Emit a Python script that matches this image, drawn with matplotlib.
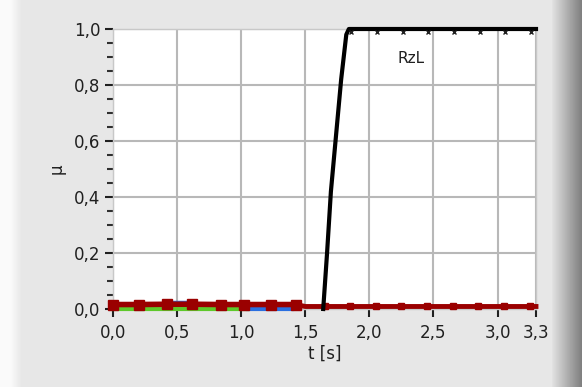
import numpy as np
import matplotlib
matplotlib.use("Agg")
import matplotlib.pyplot as plt
from matplotlib.ticker import MultipleLocator

# ---- data ----
t_black = [1.64, 1.67, 1.70, 1.74, 1.78, 1.82, 1.84, 3.3]
mu_black = [0.0, 0.2, 0.42, 0.62, 0.82, 0.98, 1.0, 1.0]
t_black_x = [1.86, 2.06, 2.26, 2.46, 2.66, 2.86, 3.06, 3.26]
mu_black_x = [0.99, 0.99, 0.99, 0.99, 0.99, 0.99, 0.99, 0.99]

t_red1 = [0.0, 0.2, 0.42, 0.62, 0.84, 1.02, 1.23, 1.43]
mu_red1 = [0.016, 0.016, 0.017, 0.017, 0.016, 0.016, 0.016, 0.016]
t_red2 = [1.43, 1.5, 1.65, 1.85, 2.05, 2.25, 2.45, 2.65, 2.85, 3.05, 3.25, 3.3]
mu_red2 = [0.016, 0.009, 0.009, 0.009, 0.009, 0.009, 0.009, 0.009, 0.009, 0.009, 0.009, 0.009]

t_green = [0.0, 0.2, 0.42, 0.62, 0.84, 1.05]
mu_green = [0.001, 0.001, 0.001, 0.001, 0.001, 0.001]

t_blue1 = [0.43, 0.62]
mu_blue1 = [0.026, 0.026]
t_blue2 = [1.05, 1.40]
mu_blue2 = [0.001, 0.001]

xticks = [0.0, 0.5, 1.0, 1.5, 2.0, 2.5, 3.0, 3.3]
xticklabels = ["0,0", "0,5", "1,0", "1,5", "2,0", "2,5", "3,0", "3,3"]
yticks = [0.0, 0.2, 0.4, 0.6, 0.8, 1.0]
yticklabels = ["0,0", "0,2", "0,4", "0,6", "0,8", "1,0"]

W, H = 582, 387
fig = plt.figure(figsize=(W / 100, H / 100), dpi=100)
fig.patch.set_facecolor("#e6e6e6")

# background panel with light left edge and dark right shadow
bg = fig.add_axes([0, 0, 1, 1])
bg.set_axis_off()
grad = np.ones((10, W)) * 0.905
grad[:, :10] = 0.98
grad[:, 10:22] = np.linspace(0.98, 0.905, 12)
shadow_start = 552
grad[:, shadow_start:] = np.linspace(0.88, 0.50, W - shadow_start)
bg.imshow(grad, cmap="gray", vmin=0, vmax=1, aspect="auto", extent=[0, W, 0, H])
bg.set_xlim(0, W)
bg.set_ylim(0, H)

left, right, top, bottom = 113, 536, 29, 309
ax = fig.add_axes([left / W, 1 - bottom / H, (right - left) / W, (bottom - top) / H])
ax.set_facecolor("white")
ax.set_xlim(0, 3.3)
ax.set_ylim(0, 1.0)
ax.set_xticks(xticks)
ax.set_xticklabels(xticklabels)
ax.set_yticks(yticks)
ax.set_yticklabels(yticklabels)
ax.yaxis.set_minor_locator(MultipleLocator(0.05))
ax.grid(True, color="#b8b8b8", linewidth=1.5)
ax.set_axisbelow(True)
for s in ax.spines.values():
    s.set_color("#c8c8c8")
    s.set_linewidth(1.0)
ax.tick_params(axis="both", which="major", labelsize=12, color="#202020",
               labelcolor="#202020", length=6, width=1.5, direction="out")
ax.tick_params(axis="y", which="minor", length=4, width=1.5, color="#303030")
ax.tick_params(axis="x", pad=5)
ax.tick_params(axis="y", pad=3)

ax.plot(t_green, mu_green, color="#5ec82a", lw=3, clip_on=False, zorder=3)
ax.plot(t_blue1, mu_blue1, color="#2a6fe0", lw=2.5, marker="|", ms=5, zorder=3)
ax.plot(t_blue2, mu_blue2, color="#2a6fe0", lw=3, clip_on=False, zorder=3)
ax.plot(t_red1, mu_red1, color="#9a0000", lw=4, marker="s", ms=7,
        clip_on=False, zorder=4)
ax.plot(t_red2, mu_red2, color="#9a0000", lw=3.5, clip_on=False, zorder=4)
ax.plot(t_red2[2:-1], mu_red2[2:-1], color="#9a0000", lw=0, marker="s", ms=5,
        clip_on=False, zorder=4)
ax.plot(t_black, mu_black, color="black", lw=3, clip_on=False, zorder=5)
ax.plot(t_black_x, mu_black_x, color="#202020", lw=0, marker="x", ms=3.5,
        mew=1, clip_on=False, zorder=5)

ax.text(2.22, 0.88, "RzL", fontsize=11, color="#202020")

ax.set_xlabel("t [s]", fontsize=12, labelpad=2, color="#202020")
ax.set_ylabel("μ", fontsize=12, labelpad=6, color="#202020")

fig.savefig("out.png", dpi=100, facecolor=fig.get_facecolor())
